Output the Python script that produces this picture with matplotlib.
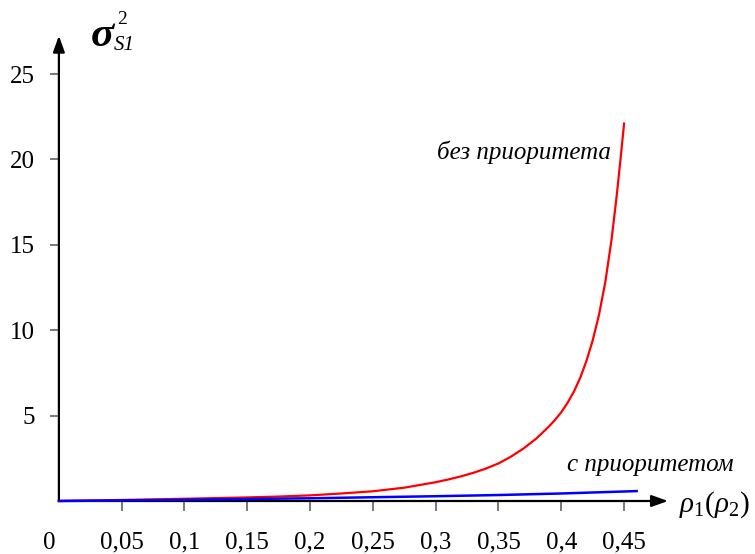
import matplotlib
matplotlib.use("Agg")
import matplotlib.pyplot as plt

plt.rcParams['font.family'] = ['Liberation Serif', 'DejaVu Serif']
plt.rcParams['mathtext.fontset'] = 'custom'
plt.rcParams['mathtext.rm'] = 'Liberation Serif'
plt.rcParams['mathtext.it'] = 'Liberation Serif:italic'
plt.rcParams['mathtext.bf'] = 'Liberation Serif:bold:italic'

# data
rho_red = [0.0, 0.05, 0.1, 0.15, 0.175, 0.2, 0.225, 0.25, 0.275, 0.3, 0.31, 0.32, 0.33,
           0.34, 0.35, 0.36, 0.37, 0.38, 0.39, 0.395, 0.40, 0.405, 0.41, 0.415, 0.42,
           0.425, 0.43, 0.435, 0.44, 0.444, 0.447, 0.45]
var_no_priority = [0.0, 0.06, 0.13, 0.21, 0.26, 0.33, 0.44, 0.57, 0.78, 1.1, 1.26, 1.44, 1.65,
                   1.9, 2.2, 2.6, 3.08, 3.65, 4.35, 4.75, 5.2, 5.75, 6.4, 7.2, 8.2,
                   9.4, 10.9, 12.8, 15.3, 17.8, 19.9, 22.1]
rho_blue = [0.0, 0.1, 0.2, 0.3, 0.35, 0.4, 0.46]
var_priority = [0.0, 0.07, 0.16, 0.28, 0.35, 0.44, 0.58]

xtick_vals = [0.05, 0.1, 0.15, 0.2, 0.25, 0.3, 0.35, 0.4, 0.45]
xtick_labels = ["0,05", "0,1", "0,15", "0,2", "0,25", "0,3", "0,35", "0,4", "0,45"]
ytick_vals = [5, 10, 15, 20, 25]
ytick_labels = ["5", "10", "15", "20", "25"]

W, H = 755, 554
fig = plt.figure(figsize=(W / 100, H / 100), dpi=100)
x0, x1 = 58.9, 668.0
y0, y1 = 501.0, 38.0
ax = fig.add_axes([x0 / W, (H - y0) / H, (x1 - x0) / W, (y0 - y1) / H])
ax.set_xlim(0, (x1 - x0) / 1256.0)
ax.set_ylim(0, (y0 - y1) / 17.08)

for s in ax.spines.values():
    s.set_visible(False)

ax.plot(rho_red, var_no_priority, color='#ff0000', lw=1.6, clip_on=False, zorder=3)
ax.plot(rho_blue, var_priority, color='#0000ff', lw=1.8, clip_on=False, zorder=4)

ax.set_xticks(xtick_vals)
ax.set_xticklabels(xtick_labels)
ax.set_yticks(ytick_vals)
ax.set_yticklabels(ytick_labels)
ax.tick_params(axis='x', direction='out', length=7.2, width=1.1, color='#555555',
               labelsize=18, pad=15)
ax.tick_params(axis='y', direction='out', length=6.5, width=1.1, color='#555555',
               labelsize=18, pad=11)

arrow = dict(arrowstyle='-|>,head_length=0.7,head_width=0.25', color='black',
             lw=1.6, mutation_scale=14, shrinkA=0, shrinkB=0)
ax.annotate('', xy=(1, 0), xytext=(0, 0), xycoords='axes fraction', arrowprops=arrow, zorder=2)
ax.annotate('', xy=(0, 1.005), xytext=(0, 0), xycoords='axes fraction', arrowprops=arrow, zorder=2)

ax.annotate('0', xy=(0, 0), xycoords='data', xytext=(-10, -42), textcoords='offset pixels',
            ha='center', va='center', fontsize=18)

# axis labels
fig.text(91 / W, 1 - 36 / H, "σ", fontsize=31, fontweight='bold', fontstyle='italic',
         ha='left', va='center')
fig.text(117 / W, 1 - 20 / H, "2", fontsize=14, ha='left', va='center')
fig.text(114 / W, 1 - 46 / H, "S1", fontsize=15, fontstyle='italic', ha='left', va='center')
fig.text(679 / W, 1 - 505 / H, r"$\rho_1(\rho_2)$", fontsize=21, ha='left', va='center')

ax.text(0.301, 20.43, "без приоритета", fontsize=18, fontstyle='italic',
        ha='left', va='center')
ax.text(0.4045, 2.1, "с приоритетом", fontsize=18, fontstyle='italic',
        ha='left', va='center')

fig.savefig("out.png", dpi=100)
